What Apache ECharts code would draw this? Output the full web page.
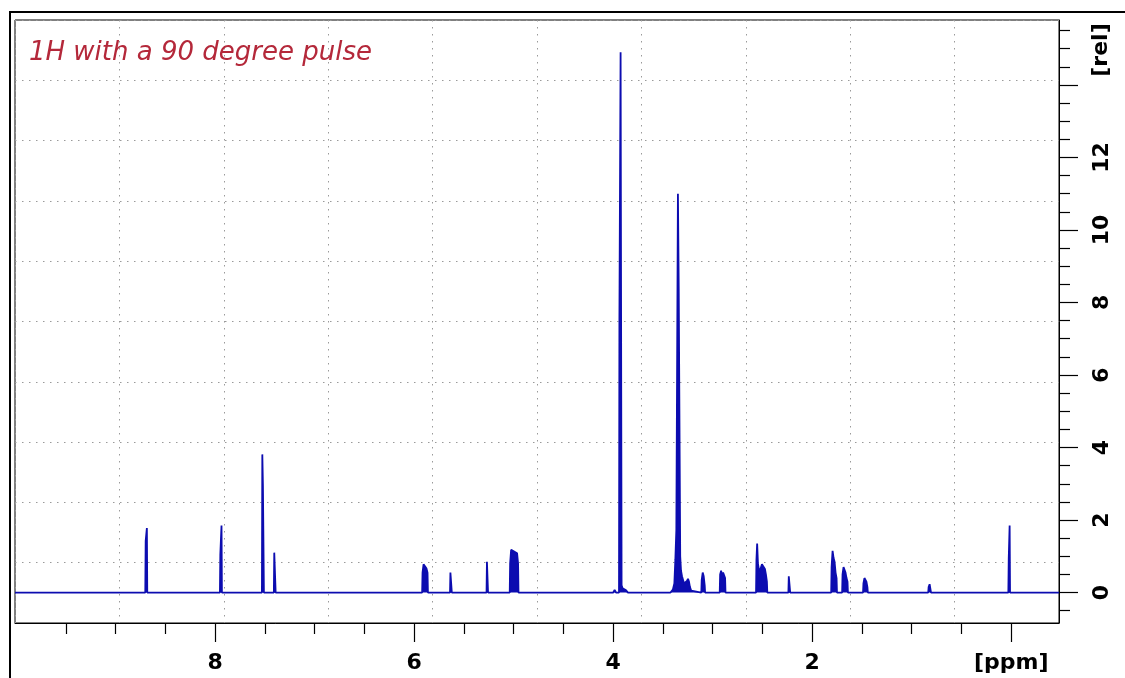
<!DOCTYPE html>
<html><head><meta charset="utf-8">
<script src="https://cdn.jsdelivr.net/npm/echarts@6/dist/echarts.min.js"></script>
<style>html,body{margin:0;padding:0;background:#fff}#c{width:1125px;height:678px}</style>
</head><body><div id="c"></div>
<script>
// ---- data ----
const titleText = '1H with a 90 degree pulse';
const xUnit = '[ppm]';
const yUnit = '[rel]';
const X_MIN = -0.48, X_MAX = 10.01;
const Y_MIN = -0.84, Y_MAX = 15.79;
const gridDivisions = 10;
const xLabelValues = [8, 6, 4, 2, 0];
const xMajorTicks = [8, 6, 4, 2, 0];
const xMinorTicks = [9.5, 9, 8.5, 7.5, 7, 6.5, 5.5, 5, 4.5, 3.5, 3, 2.5, 1.5, 1, 0.5];
const yLabelValues = [0, 2, 4, 6, 8, 10, 12];
const yMajorTicks = [0, 2, 4, 6, 8, 10, 12, 14];
const yMinorTicks = [-0.5, 0.5, 1, 1.5, 2.5, 3, 3.5, 4.5, 5, 5.5, 6.5, 7, 7.5, 8.5, 9, 9.5, 10.5, 11, 11.5, 12.5, 13, 13.5, 14.5, 15, 15.5];

// spectral lines (chemical shift in ppm, relative intensity)
const lineShift = [
  8.697, 8.690, 8.685,
  7.947, 7.940, 7.935,
  7.525, 7.519, 7.513,
  7.405, 7.395,
  5.915, 5.905, 5.895, 5.885, 5.875, 5.865,
  5.635, 5.625,
  5.268, 5.261,
  5.035, 5.025, 5.015, 5.005, 4.995, 4.985, 4.975, 4.965, 4.955,
  3.995, 3.985, 3.975,
  3.937, 3.930, 3.925, 3.915, 3.905, 3.895, 3.885, 3.870, 3.855,
  3.420, 3.400, 3.385, 3.375, 3.365, 3.357, 3.349, 3.341, 3.333, 3.326, 3.318, 3.308, 3.298, 3.288, 3.278, 3.268, 3.258, 3.248, 3.238, 3.228, 3.215,
  3.110, 3.100, 3.090, 3.080,
  2.925, 2.915, 2.905, 2.895, 2.885, 2.875,
  2.560, 2.553, 2.545, 2.530, 2.520, 2.505, 2.495, 2.485, 2.475, 2.465, 2.455,
  2.235, 2.225,
  1.805, 1.795, 1.785, 1.775, 1.765, 1.755,
  1.695, 1.685, 1.675, 1.665, 1.655, 1.645,
  1.485, 1.475, 1.465, 1.455, 1.445,
  0.830, 0.820, 0.810,
  0.025, 0.020, 0.016
];
const lineHeight = [
  1.42, 1.45, 1.78,
  1.05, 1.08, 1.85,
  3.81, 2.95, 2.90,
  1.10, 1.06,
  0.55, 0.78, 0.82, 0.78, 0.66, 0.55,
  0.55, 0.55,
  0.85, 0.80,
  0.80, 1.18, 1.16, 1.14, 1.13, 1.12, 1.10, 1.08, 0.80,
  0.04, 0.07, 0.06,
  7.50, 7.55, 14.90, 0.20, 0.12, 0.15, 0.08, 0.06, 0.04,
  0.03, 0.08, 0.25, 0.90, 1.72, 1.75, 11.00, 8.38, 8.33, 1.00, 0.60, 0.45, 0.35, 0.25, 0.20, 0.22, 0.32, 0.38, 0.30, 0.15, 0.05,
  0.35, 0.55, 0.45, 0.20,
  0.50, 0.60, 0.45, 0.55, 0.58, 0.40,
  0.90, 1.35, 0.80, 0.55, 0.60, 0.78, 0.80, 0.75, 0.65, 0.50, 0.30,
  0.45, 0.42,
  0.70, 1.15, 0.95, 0.85, 0.55, 0.40,
  0.50, 0.70, 0.72, 0.55, 0.40, 0.30,
  0.25, 0.40, 0.38, 0.30, 0.15,
  0.15, 0.23, 0.18,
  0.94, 0.96, 1.85
];

// ---- build spectrum trace: baseline between groups of close lines ----
const GROUP_GAP = 0.026, FOOT = 0.004;
const spectrum = [[X_MAX, 0]];
for (let i = 0; i < lineShift.length;) {
  let j = i;
  while (j + 1 < lineShift.length && lineShift[j] - lineShift[j + 1] <= GROUP_GAP) j++;
  spectrum.push([lineShift[i] + FOOT, 0]);
  for (let k = i; k <= j; k++) spectrum.push([lineShift[k], lineHeight[k]]);
  spectrum.push([lineShift[j] - FOOT, 0]);
  i = j + 1;
}
spectrum.push([X_MIN, 0]);

const labelFont = { fontFamily: 'DejaVu Sans', fontWeight: 'bold', fontSize: 22, color: '#000' };
const tickStyle = { color: '#000', width: 1.2 };
const dotted = { color: '#9a9a9a', width: 1, type: [1.5, 5.5] };
const specColor = '#0c0cb0';

const chart = echarts.init(document.getElementById('c'), null, { renderer: 'canvas' });
chart.setOption({
  animation: false,
  backgroundColor: '#fff',
  grid: {
    left: 15, top: 20, width: 1044, height: 603,
    show: true, borderColor: '#000', borderWidth: 1, backgroundColor: 'transparent',
    containLabel: false, outerBoundsMode: 'none'
  },
  xAxis: [
    {
      type: 'value', min: X_MIN, max: X_MAX, inverse: true, position: 'bottom',
      axisLine: { show: true, onZero: false, lineStyle: { color: '#000', width: 1 } },
      axisTick: { show: true, customValues: xMajorTicks, length: 19, lineStyle: tickStyle },
      axisLabel: Object.assign({ show: true, customValues: xLabelValues, margin: 29,
        formatter: v => (v === 0 ? xUnit : String(v)) }, labelFont),
      splitLine: { show: false }
    },
    {
      type: 'value', min: X_MIN, max: X_MAX, inverse: true, position: 'bottom',
      axisLine: { show: false, onZero: false },
      axisTick: { show: true, customValues: xMinorTicks, length: 11, lineStyle: tickStyle },
      axisLabel: { show: false },
      splitLine: { show: false }
    },
    {
      type: 'value', min: 0, max: gridDivisions, interval: 1, position: 'top',
      axisLine: { show: false, onZero: false }, axisTick: { show: false }, axisLabel: { show: false },
      splitLine: { show: true, lineStyle: dotted }
    }
  ],
  yAxis: [
    {
      type: 'value', min: Y_MIN, max: Y_MAX, position: 'right',
      axisLine: { show: true, onZero: false, lineStyle: { color: '#000', width: 1 } },
      axisTick: { show: true, customValues: yMajorTicks, length: 19, lineStyle: tickStyle },
      axisLabel: Object.assign({ show: true, customValues: yLabelValues, margin: 32, rotate: 90,
        formatter: v => String(v) }, labelFont),
      splitLine: { show: false }
    },
    {
      type: 'value', min: Y_MIN, max: Y_MAX, position: 'right',
      axisLine: { show: false, onZero: false },
      axisTick: { show: true, customValues: yMinorTicks, length: 11, lineStyle: tickStyle },
      axisLabel: { show: false },
      splitLine: { show: false }
    },
    {
      type: 'value', min: 0, max: gridDivisions, interval: 1, position: 'left',
      axisLine: { show: false, onZero: false }, axisTick: { show: false }, axisLabel: { show: false },
      splitLine: { show: true, lineStyle: dotted }
    }
  ],
  series: [{
    type: 'line', xAxisIndex: 0, yAxisIndex: 0, data: spectrum,
    showSymbol: false, symbol: 'none', sampling: null, smooth: false,
    lineStyle: { color: specColor, width: 1.8 },
    areaStyle: { color: specColor, opacity: 1, origin: 0 },
    z: 5
  }],
  graphic: [
    { type: 'rect', shape: { x: 10, y: 12, width: 1300, height: 800 },
      style: { fill: 'none', stroke: '#000', lineWidth: 2 }, silent: true, z: 100 },
    { type: 'text', x: 29, y: 53, silent: true, z: 100,
      style: { text: titleText, x: 0, y: 0, fill: '#b4283a',
        font: 'italic 26px "DejaVu Sans"', align: 'left', verticalAlign: 'middle',
        textAlign: 'left', textVerticalAlign: 'middle' } },
    { type: 'text', x: 1101, y: 50, rotation: Math.PI / 2, silent: true, z: 100,
      style: { text: yUnit, x: 0, y: 0, fill: '#000',
        font: 'bold 22px "DejaVu Sans"', align: 'center', verticalAlign: 'middle',
        textAlign: 'center', textVerticalAlign: 'middle' } }
  ]
});
</script>
</body></html>
